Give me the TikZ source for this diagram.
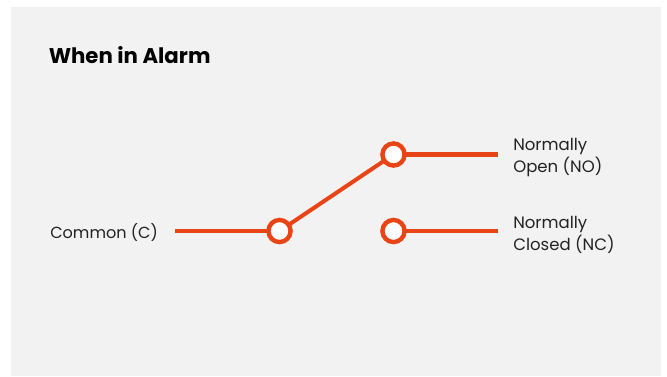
\documentclass[tikz,border=0pt]{standalone}
\usepackage{fontspec}
\setmainfont{Poppins}
\definecolor{panel}{HTML}{F2F2F2}
\definecolor{relay}{HTML}{E94415}
\definecolor{ink}{HTML}{222222}
\tikzset{
  x=0.75pt,y=-0.75pt,
  wire/.style={draw=relay,line width=3.5pt},
  arm/.style={draw=relay,line width=3pt},
  contact/.style={circle,draw=relay,fill=white,line width=3.3pt,minimum size=16.6pt,inner sep=0pt,outer sep=0pt},
  lbl/.style={anchor=west,text=ink,font=\fontsize{12.4pt}{16.6pt}\selectfont,align=left,inner sep=0pt},
  lblc/.style={lbl,font=\fontsize{12.05pt}{16.6pt}\selectfont},
  ttl/.style={anchor=west,text=black,font=\fontsize{15.95pt}{18pt}\selectfont\bfseries,inner sep=0pt}
}
\begin{document}
\begin{tikzpicture}
\useasboundingbox (0,0) rectangle (667,376);
\fill[white] (0,0) rectangle (667,376);
\fill[panel] (11,7) rectangle (661,376);
\node[ttl] (title) at (48.5,55.5) {When in Alarm};
\node[lblc] (common) at (50,232) {Common (C)};
\node[lbl] (no) at (513,157.5) {Normally\\Open (NO)};
\node[lbl] (nc) at (513,235) {Normally\\Closed (NC)};
\coordinate (cstart) at (175,231);
\coordinate (noend) at (498,154.5);
\coordinate (ncend) at (498,231);
\node[contact] (cc) at (279.5,231) {};
\node[contact] (cno) at (393.5,154.5) {};
\node[contact] (cnc) at (393.5,231) {};
\draw[wire] (cstart) -- (cc);
\draw[wire] (cno) -- (noend);
\draw[wire] (cnc) -- (ncend);
\draw[arm] (cc) -- (cno);
\end{tikzpicture}
\end{document}
